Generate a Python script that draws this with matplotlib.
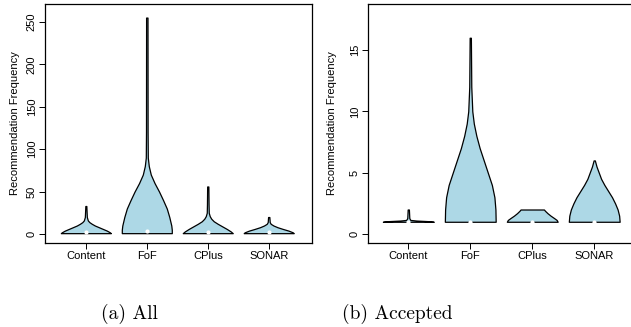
"""
Violin plots of recommendation frequency, (a) All and (b) Accepted.
"""
import numpy as np
import matplotlib.pyplot as plt

plt.rcParams['font.family'] = ['Liberation Sans', 'DejaVu Sans']

METHODS = ['Content', 'FoF', 'CPlus', 'SONAR']
FILL = '#add8e6'

# violin profiles: frequency levels and relative density (1 = widest)
all_levels = {
    'Content': [1, 2, 4, 6, 8, 10, 12, 14, 16, 20, 25, 33],
    'FoF':     [1, 5, 10, 20, 30, 40, 50, 60, 70, 80, 90, 120, 255],
    'CPlus':   [1, 3, 6, 9, 12, 15, 18, 21, 25, 35, 56],
    'SONAR':   [1, 2, 4, 6, 8, 10, 12, 14, 20],
}
all_density = {
    'Content': [1.0, 0.96, 0.84, 0.68, 0.52, 0.36, 0.24, 0.14, 0.08, 0.04, 0.032, 0.02],
    'FoF':     [1.0, 1.0, 0.98, 0.9, 0.8, 0.65, 0.49, 0.31, 0.16, 0.08, 0.04, 0.032, 0.028],
    'CPlus':   [1.0, 0.92, 0.76, 0.58, 0.4, 0.24, 0.14, 0.08, 0.04, 0.032, 0.024],
    'SONAR':   [1.0, 0.96, 0.79, 0.56, 0.35, 0.19, 0.08, 0.04, 0.025],
}
all_median = [2, 3, 2, 2]

acc_levels = {
    'Content': [1, 1.05, 1.1, 1.15, 1.3, 2],
    'FoF':     [1, 2, 3, 4, 5, 6, 7, 8, 9, 10, 12, 16],
    'CPlus':   [1, 1.15, 1.3, 1.5, 1.7, 1.9, 2],
    'SONAR':   [1, 1.5, 2, 2.5, 3, 3.5, 4, 4.5, 5, 5.5, 6],
}
acc_density = {
    'Content': [1.0, 0.8, 0.32, 0.08, 0.04, 0.024],
    'FoF':     [1.0, 0.99, 0.95, 0.85, 0.69, 0.53, 0.37, 0.24, 0.14, 0.08, 0.04, 0.024],
    'CPlus':   [1.0, 0.96, 0.86, 0.72, 0.6, 0.5, 0.46],
    'SONAR':   [1.0, 0.98, 0.92, 0.82, 0.7, 0.55, 0.4, 0.27, 0.18, 0.09, 0.024],
}
acc_median = [1, 1, 1, 1]


def violins(ax, levels, density, median):
    for i, name in enumerate(METHODS):
        pos = i + 1
        y = np.array(levels[name], dtype=float)
        hw = 0.41 * np.array(density[name])
        ax.fill_betweenx(y, pos - hw, pos + hw, facecolor=FILL,
                         edgecolor='black', linewidth=0.9, zorder=2)
        ax.plot(pos, median[i], 'o', color='white', markersize=3,
                markeredgewidth=0, zorder=3)
    ax.set_xticks(range(1, len(METHODS) + 1))
    ax.set_xticklabels(METHODS)
    ax.tick_params(labelsize=8, length=4, width=0.7, pad=2)
    for s in ax.spines.values():
        s.set_linewidth(0.9)
    ax.set_ylabel('Recommendation Frequency', fontsize=8)


fig = plt.figure(figsize=(6.31, 3.27), dpi=100)
W, H = 631.0, 327.0

ax1 = fig.add_axes([45 / W, (H - 243) / H, 267 / W, 239 / H])
violins(ax1, all_levels, all_density, all_median)
ax1.set_xlim(0.33, 4.71)
ax1.set_ylim(-10.6, 271)
ax1.set_yticks([0, 50, 100, 150, 200, 250])
for t in ax1.get_yticklabels():
    t.set_rotation(90)
    t.set_va('center')
ax1.yaxis.set_label_coords(-0.094, 0.5)

ax2 = fig.add_axes([368 / W, (H - 243) / H, 269 / W, 239 / H])
violins(ax2, acc_levels, acc_density, acc_median)
ax2.set_xlim(0.35, 4.69)
ax2.set_ylim(-0.73, 18.75)
ax2.set_yticks([0, 5, 10, 15])
for t in ax2.get_yticklabels():
    t.set_rotation(90)
    t.set_va('center')
ax2.yaxis.set_label_coords(-0.115, 0.5)

fig.text(129 / W, 13 / H, '(a) All', fontfamily='cmr10', fontsize=14,
         ha='center', va='center')
fig.text(397 / W, 13 / H, '(b) Accepted', fontfamily='cmr10', fontsize=14,
         ha='center', va='center')

plt.savefig('out.png', dpi=100)
